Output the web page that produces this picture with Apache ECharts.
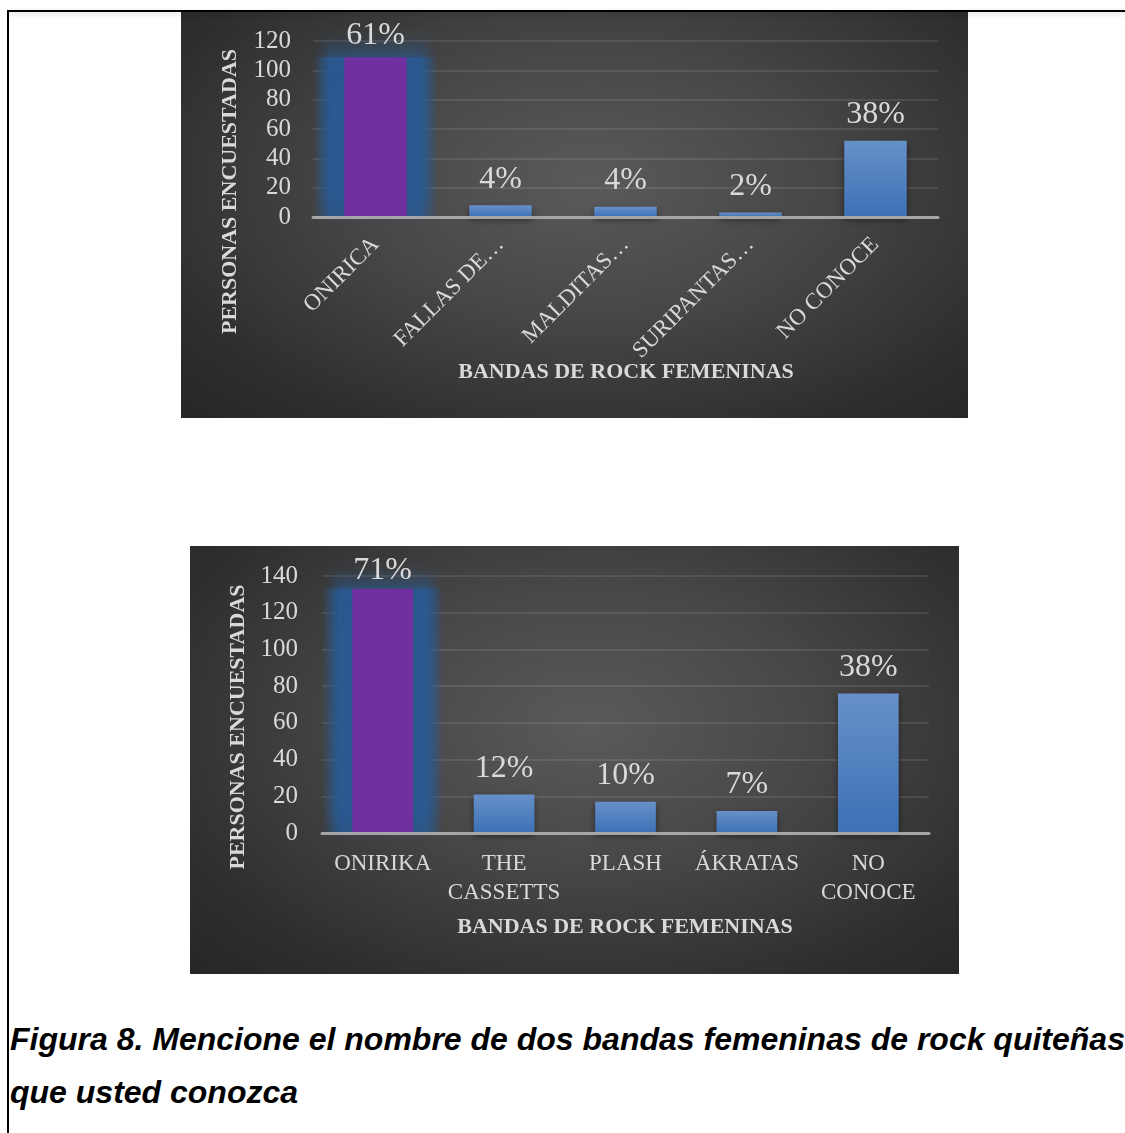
<!DOCTYPE html>
<html>
<head>
<meta charset="utf-8">
<script src="https://cdn.jsdelivr.net/npm/echarts/dist/echarts.min.js"></script>
<style>
html,body{margin:0;padding:0;background:#fff;width:1125px;height:1133px;overflow:hidden;position:relative}
.topline{position:absolute;left:7px;top:10px;width:1118px;height:2px;background:#000;box-shadow:0 2px 5px rgba(0,0,0,0.18)}
.leftline{position:absolute;left:7px;top:10px;width:2px;height:1123px;background:#000}
.panel{position:absolute;background:radial-gradient(ellipse at 52% 42%, #5a5a5a 0%, #474747 40%, #2e2e2e 80%, #262626 100%)}
#c1{left:181px;top:12px;width:787px;height:406px}
#c2{left:190px;top:546px;width:769px;height:428px}
.caption{position:absolute;left:10px;font-family:"Liberation Sans",Arial,sans-serif;font-weight:bold;font-style:italic;font-size:32px;line-height:40px;color:#000;white-space:nowrap}
</style>
</head>
<body>
<div class="panel" id="c1"></div>
<div class="panel" id="c2"></div>
<div class="topline"></div>
<div class="leftline"></div>
<div class="caption" style="top:1019px">Figura 8. Mencione el nombre de dos bandas femeninas de rock quiteñas</div>
<div class="caption" style="top:1072px">que usted conozca</div>
<script>
// ---- Data: chart 1 (top) ----
const categories1 = ['ONIRICA', 'FALLAS DE…', 'MALDITAS…', 'SURIPANTAS…', 'NO CONOCE'];
const values1 = [109, 8, 7, 3, 52];
const pctLabels1 = ['61%', '4%', '4%', '2%', '38%'];
const yTicks1 = [0, 20, 40, 60, 80, 100, 120];

// ---- Data: chart 2 (bottom) ----
const categories2 = ['ONIRIKA', 'THE\nCASSETTS', 'PLASH', 'ÁKRATAS', 'NO\nCONOCE'];
const values2 = [133, 21, 17, 12, 76];
const pctLabels2 = ['71%', '12%', '10%', '7%', '38%'];
const yTicks2 = [0, 20, 40, 60, 80, 100, 120, 140];

const yAxisName = 'PERSONAS ENCUESTADAS';
const xAxisName = 'BANDAS DE ROCK FEMENINAS';

const TXT = '#d9d9d9';
const SERIF = '"Liberation Serif", "DejaVu Serif", serif';

function blueGrad() {
  return new echarts.graphic.LinearGradient(0, 0, 0, 1, [
    {offset: 0, color: '#6790c9'},
    {offset: 1, color: '#3c71b5'}
  ]);
}

function glowGrad() {
  return new echarts.graphic.LinearGradient(0, 0, 1, 0, [
    {offset: 0, color: 'rgba(40,90,150,0)'},
    {offset: 0.14, color: 'rgba(40,90,150,0.78)'},
    {offset: 0.86, color: 'rgba(40,90,150,0.78)'},
    {offset: 1, color: 'rgba(40,90,150,0)'}
  ]);
}

function makeOption(cfg) {
  const data = cfg.values.map((v, i) => {
    if (i === 0) {
      return {
        value: v,
        itemStyle: {color: '#7030a0'},
        label: {distance: cfg.firstLabelDist}
      };
    }
    return {
      value: v,
      itemStyle: {color: blueGrad(), shadowColor: 'rgba(0,0,0,0.45)', shadowBlur: 6, shadowOffsetY: 3}
    };
  });
  // highlighted (glowing) category: the first one
  const glowData = cfg.values.map((v, i) => (i === 0 ? v : null));
  const t = cfg.ticks;
  const xBase = {
    type: 'category',
    data: cfg.categories,
    axisTick: {show: false}
  };
  return {
    animation: false,
    backgroundColor: 'transparent',
    grid: cfg.grid,
    xAxis: [
      Object.assign({}, xBase, {
        axisLine: {lineStyle: {color: '#a6a6a6', width: 3}},
        axisLabel: Object.assign({interval: 0, color: TXT, fontFamily: SERIF}, cfg.xLabel),
        z: 5
      }),
      Object.assign({}, xBase, {show: false, position: 'bottom'})
    ],
    yAxis: {
      type: 'value',
      min: t[0], max: t[t.length - 1], interval: t[1] - t[0],
      axisLine: {show: false},
      axisTick: {show: false},
      splitLine: {lineStyle: {color: 'rgba(255,255,255,0.13)', width: 1.5}},
      axisLabel: {color: TXT, fontFamily: SERIF, fontSize: 25, margin: cfg.yMargin}
    },
    series: [
      {
        type: 'bar',
        xAxisIndex: 1,
        data: glowData,
        barWidth: cfg.glowWidth,
        z: 1,
        silent: true,
        itemStyle: {color: glowGrad(), shadowColor: 'rgba(40,90,150,0.85)', shadowBlur: 18, shadowOffsetY: -9},
        label: {show: false}
      },
      {
        type: 'bar',
        xAxisIndex: 0,
        data: data,
        barCategoryGap: '50%',
        z: 3,
        label: {
          show: true, position: 'top', distance: cfg.labelDist,
          color: TXT, fontFamily: SERIF, fontSize: 32,
          formatter: p => cfg.pct[p.dataIndex]
        }
      }
    ],
    graphic: [
      {type: 'text', x: cfg.yName[0], y: cfg.yName[1], rotation: Math.PI / 2,
       style: {text: yAxisName, fill: TXT, font: 'bold 22px ' + SERIF, align: 'center', verticalAlign: 'middle'}},
      {type: 'text', x: cfg.xName[0], y: cfg.xName[1],
       style: {text: xAxisName, fill: TXT, font: 'bold 22px ' + SERIF, align: 'center', verticalAlign: 'middle'}}
    ]
  };
}

const ch1 = echarts.init(document.getElementById('c1'));
ch1.setOption(makeOption({
  categories: categories1, values: values1, pct: pctLabels1, ticks: yTicks1,
  grid: {left: 132, right: 30, top: 29, bottom: 201},
  xLabel: {rotate: 45, fontSize: 23, margin: 24},
  yMargin: 22, labelDist: 10, firstLabelDist: 6, glowWidth: 124,
  yName: [49, 179.5], xName: [445, 360]
}));

const ch2 = echarts.init(document.getElementById('c2'));
ch2.setOption(makeOption({
  categories: categories2, values: values2, pct: pctLabels2, ticks: yTicks2,
  grid: {left: 132, right: 30, top: 30, bottom: 141},
  xLabel: {fontSize: 23, lineHeight: 29, margin: 16},
  yMargin: 24, labelDist: 10, firstLabelDist: 2, glowWidth: 120,
  yName: [48.5, 181], xName: [435, 381]
}));
</script>
</body>
</html>
